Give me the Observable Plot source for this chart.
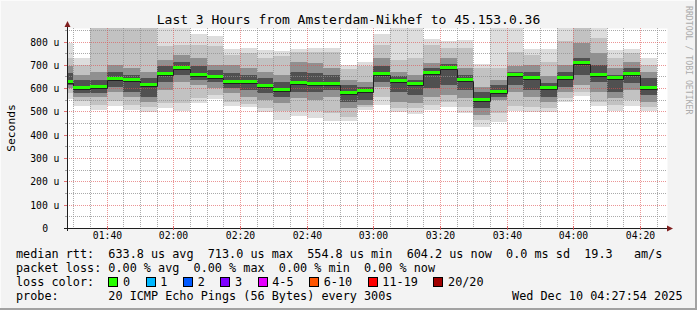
<!DOCTYPE html>
<html><head><meta charset="utf-8">
<script src="https://cdn.jsdelivr.net/npm/d3@7"></script>
<script src="https://cdn.jsdelivr.net/npm/@observablehq/plot@0.6"></script>
<style>
html,body{margin:0;padding:0;background:#f3f3f3;}
#wrap{position:relative;width:697px;height:310px;background:#f3f3f3;overflow:hidden;
  font-family:"DejaVu Sans Mono",monospace;color:#000;
  box-shadow: inset -2px -2px 0 #a2a2a2, inset 1px 1px 0 #fbfbfb;}
#title{position:absolute;left:0;width:697px;top:12px;line-height:16px;font-size:13px;text-align:center;white-space:pre;}
#chart{position:absolute;left:0;top:0;}
#vlabel{position:absolute;left:10.5px;top:128px;transform:translate(-50%,-50%) rotate(-90deg);font-size:11.3px;white-space:pre;}
#credit{position:absolute;left:684px;top:6px;writing-mode:vertical-rl;font-size:8.2px;color:#ababab;white-space:pre;line-height:9px;}
#legend{position:absolute;left:16px;top:247px;font-size:11.8px;line-height:14px;white-space:pre;}
.row{height:14px;position:relative;}
.box{display:inline-block;box-sizing:border-box;width:10px;height:10px;border:1px solid #000;margin-right:4.7px;vertical-align:-1px;}
.lab{margin-right:15.5px;}
#date{position:absolute;right:14.5px;top:0;}
</style></head><body>
<div id="wrap">
  <div id="chart"></div>
  <div id="title">Last 3 Hours from Amsterdam-Nikhef to 45.153.0.36</div>
  <div id="vlabel">Seconds</div>
  <div id="credit">RRDTOOL / TOBI OETIKER</div>
  <div id="legend"></div>
</div>
<script>
// ---- data (microseconds) ----
const times = ["01:25","01:30","01:35","01:40","01:45","01:50","01:55","02:00","02:05","02:10","02:15","02:20",
  "02:25","02:30","02:35","02:40","02:45","02:50","02:55","03:00","03:05","03:10","03:15","03:20",
  "03:25","03:30","03:35","03:40","03:45","03:50","03:55","04:00","04:05","04:10","04:15","04:20"];
const medianUs = [630,607,611,645,641,618,665,690,660,651,630,630,613,595,625,620,621,583,594,666,634,620,671,691,641,554.8,588,661,648,605,647,713.0,661,647,666,604.2];
const maxUs = [793,731,880,880,880,880,880,880,833,824,769,773,763,759,769,774,774,700,711,832,880,880,812,803,807,705,880,880,769,769,880,880,880,764,769,729];
const minUs = [552,524,507,524,507,497,514,502,535,554,524,517,497,465,482,474,460,457,505,528,497,488,505,517,492,435,455,500,497,497,540,568,525,500,525,502];
const hi2 = [729,700,870,870,870,870,779,786,786,779,743,750,731,736,754,757,754,681,693,786,721,729,786,771,771,686,686,757,743,714,803,870,814,729,750,700];
const lo2 = [578,543,528,545,528,521,535,535,557,571,540,531,514,502,502,502,492,478,521,564,514,514,528,540,521,464,492,525,521,514,557,585,540,528,550,517];
const hi3 = [693,657,671,700,686,671,721,743,729,700,700,686,671,657,714,707,686,636,628,729,671,657,707,729,686,607,636,693,700,650,700,793,750,686,714,671];
const lo3 = [600,564,564,585,564,542,593,628,614,600,578,564,550,535,557,550,564,514,528,607,542,535,564,571,557,485,550,585,564,542,585,614,585,557,593,542];
const hi4 = [664,636,636,671,657,643,693,714,693,679,664,657,643,628,671,664,657,614,607,693,650,636,686,703,657,585,614,671,671,621,671,729,700,657,686,643];
const lo4 = [614,578,578,607,585,564,628,657,636,628,600,593,578,564,585,585,593,542,550,628,585,571,600,614,593,514,564,614,593,564,607,657,628,585,621,571];

const xTickLabels = ["01:40","02:00","02:20","02:40","03:00","03:20","03:40","04:00","04:20"];
const yTickValues = [100,200,300,400,500,600,700,800];
const yTickLabels = ["100 u","200 u","300 u","400 u","500 u","600 u","700 u","800 u"];
const yZeroLabel = "0";
const rttStats = ["633.8","713.0","554.8","604.2","0.0","19.3"];
const lossStats = ["0.00","0.00","0.00","0.00"];
const lossLabels = ["0","1","2","3","4-5","6-10","11-19","20/20"];
const lossColors = ["#26ff00","#00b8ff","#0059ff","#7e00ff","#e600ff","#ff5500","#ff0000","#a00000"];
const probeText = "20 ICMP Echo Pings (56 Bytes) every 300s";
const dateText = "Wed Dec 10 04:27:54 2025";

// ---- build ----
const toMin = s => { const [h, m] = s.split(":").map(Number); return h * 60 + m; };
const stepMin = 5;
const xDomain = [88.1, 268.1];
const yDomain = [0, 858];
const bars = times.map((t, i) => ({
  x1: toMin(t), x2: toMin(t) + stepMin, med: medianUs[i],
  lo1: minUs[i], hi1: maxUs[i], lo2: lo2[i], hi2: hi2[i], lo3: lo3[i], hi3: hi3[i], lo4: lo4[i], hi4: hi4[i]
}));
const stepPts = bars.map(b => ({x: b.x1, y: b.med})).concat([{x: bars[bars.length-1].x2, y: bars[bars.length-1].med}]);
const xMajor = xTickLabels.map(toMin);
const xMinor = d3.range(90, 268, 5).filter(v => !xMajor.includes(v));
const yMajor = yTickValues;
const yMinor = d3.range(50, 858, 100);

const GRID = "#8f8f8f", MGRID = "#de4f4f";
const band = (lo, hi, fill) => Plot.rect(bars, {x1: "x1", x2: "x2", y1: lo, y2: hi, fill, clip: true});

const chart = Plot.plot({
  width: 697, height: 250,
  marginLeft: 67, marginRight: 30, marginTop: 28, marginBottom: 22,
  style: {background: "transparent", fontFamily: "DejaVu Sans Mono", overflow: "visible", color: "#000"},
  x: {domain: xDomain, round: true, axis: null},
  y: {domain: yDomain, round: true, axis: null},
  marks: [
    Plot.frame({fill: "#fff", stroke: "none"}),
    band("lo1", "hi1", "#dddddd"),
    band("lo2", "hi2", "#c2c2c2"),
    band("lo3", "hi3", "#909090"),
    band("lo4", "hi4", "#505050"),
    Plot.ruleX(xMinor, {stroke: GRID, strokeOpacity: 0.75, strokeDasharray: "1,1"}),
    Plot.ruleY(yMinor, {stroke: GRID, strokeOpacity: 0.75, strokeDasharray: "1,1"}),
    Plot.ruleX(xMajor, {stroke: MGRID, strokeOpacity: 0.6, strokeDasharray: "1,1"}),
    Plot.ruleY(yMajor, {stroke: MGRID, strokeOpacity: 0.6, strokeDasharray: "1,1"}),
    Plot.line(stepPts, {x: "x", y: "y", curve: "step-after", stroke: "#202020", strokeWidth: 1, dy: 2, clip: true}),
    Plot.ruleY(bars, {x1: "x1", x2: "x2", y: "med", stroke: lossColors[0], strokeWidth: 3, clip: true}),
    Plot.ruleY([0], {stroke: "#1f1f1f", insetLeft: -3, insetRight: -2}),
    Plot.ruleX([xDomain[0]], {stroke: "#1f1f1f", insetTop: -2, insetBottom: -3}),
    Plot.text(yTickValues, {y: d => d, frameAnchor: "left", textAnchor: "end", dx: -8, fontSize: 9.75,
      text: (d, i) => yTickLabels[i], fill: "#000"}),
    Plot.text([0], {y: d => d, frameAnchor: "left", textAnchor: "end", dx: -19.5, fontSize: 9.75,
      text: () => yZeroLabel, fill: "#000"}),
    Plot.text(xMajor, {x: d => d, frameAnchor: "bottom", dy: 10.5, fontSize: 9.75,
      text: (d, i) => xTickLabels[i], fill: "#000"})
  ]
});
document.getElementById("chart").appendChild(chart);

// axis decorations (ticks, arrows) positioned with the same scales
const xs = chart.scale("x"), ys = chart.scale("y");
const svg = d3.select(chart);
const y0 = Math.round(ys.apply(0)), x0 = Math.round(xs.apply(xDomain[0]));
yMajor.forEach(v => { const y = Math.round(ys.apply(v)) + 0.5;
  svg.append("line").attr("x1", x0 - 3).attr("x2", x0).attr("y1", y).attr("y2", y).attr("stroke", MGRID).attr("stroke-opacity", 0.8); });
yMinor.forEach(v => { const y = Math.round(ys.apply(v)) + 0.5;
  svg.append("line").attr("x1", x0 - 2).attr("x2", x0).attr("y1", y).attr("y2", y).attr("stroke", GRID).attr("stroke-opacity", 0.8); });
xMajor.forEach(v => { const x = Math.round(xs.apply(v)) + 0.5;
  svg.append("line").attr("x1", x).attr("x2", x).attr("y1", y0 - 2).attr("y2", y0 + 2).attr("stroke", MGRID).attr("stroke-opacity", 0.8); });
const xEnd = Math.round(xs.apply(xDomain[1]));
const yTop = Math.round(ys.apply(yDomain[1]));
svg.append("path").attr("d", `M${x0+0.5},${yTop-7} L${x0-2.5},${yTop-1} L${x0+3.5},${yTop-1} Z`).attr("fill", "#801f1f");
svg.append("path").attr("d", `M${xEnd+6},${y0+0.5} L${xEnd},${y0-2.5} L${xEnd},${y0+3.5} Z`).attr("fill", "#801f1f");

// legend
const lg = document.getElementById("legend");
lg.innerHTML =
  `<div class="row">median rtt:  ${rttStats[0]} us avg  ${rttStats[1]} us max  ${rttStats[2]} us min  ${rttStats[3]} us now  ${rttStats[4]} ms sd  ${rttStats[5]}   am/s</div>` +
  `<div class="row">packet loss: ${lossStats[0]} % avg  ${lossStats[1]} % max  ${lossStats[2]} % min  ${lossStats[3]} % now</div>` +
  `<div class="row">loss color:  ` + lossLabels.map((l, i) => `<span class="box" style="background:${lossColors[i]}"></span><span class="lab">${l}</span>`).join("") + `</div>` +
  `<div class="row">probe:       ${probeText}</div>`;
const dt = document.createElement("div");
dt.id = "date"; dt.style.top = (247 + 42) + "px"; dt.style.lineHeight = "14px"; dt.style.fontSize = "11.8px";
dt.textContent = dateText;
document.getElementById("wrap").appendChild(dt);
</script>
</body></html>
